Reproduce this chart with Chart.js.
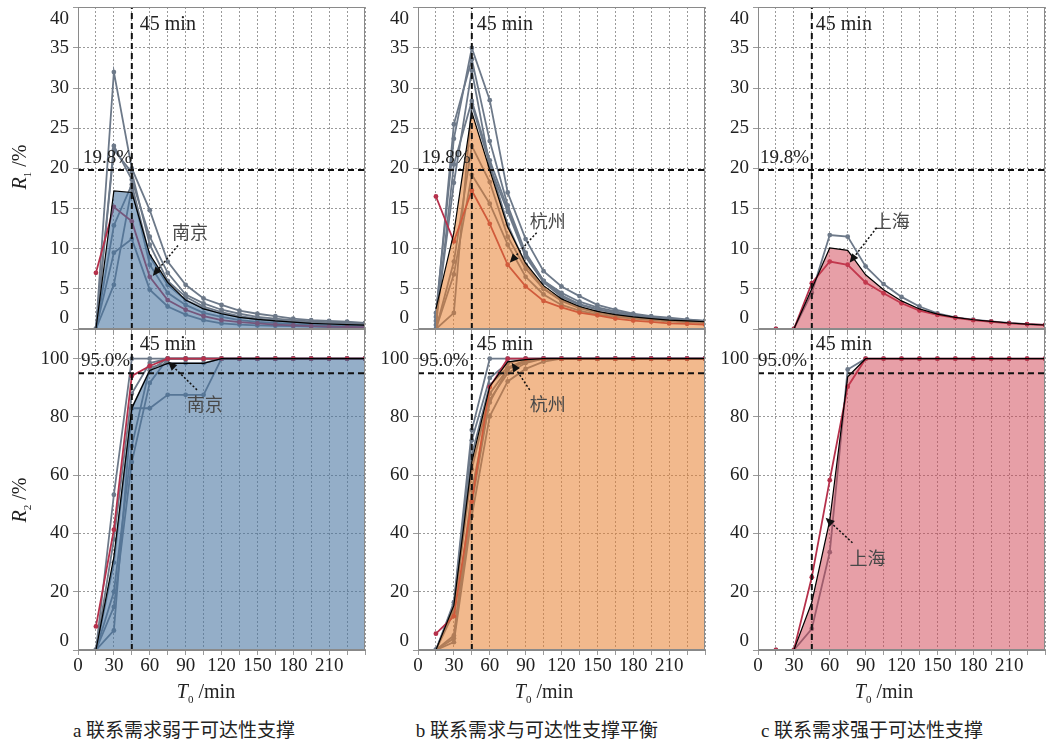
<!DOCTYPE html>
<html lang="zh">
<head>
<meta charset="UTF-8">
<title>R1 / R2 与 T0</title>
<script src="https://cdn.jsdelivr.net/npm/chart.js"></script>
<style>
  body { margin: 0; width: 1050px; height: 741px; background: #fff; position: relative; overflow: hidden;
         font-family: "Liberation Serif", "Noto Sans CJK SC", serif; color: #222; }
  canvas { position: absolute; }
  .yt { position: absolute; transform: translate(-50%, -50%) rotate(-90deg); font-size: 20px; white-space: nowrap; }
  .xt { position: absolute; transform: translate(-50%, -50%); font-size: 20px; white-space: nowrap; }
  .yt sub, .xt sub { font-size: 11px; font-style: normal; }
  .cap { position: absolute; transform: translate(-50%, -50%); font-size: 19px; white-space: nowrap;
         font-family: "Liberation Serif", "Noto Sans CJK SC", serif; }
</style>
</head>
<body>
<canvas id="a1" width="365" height="335"></canvas>
<canvas id="b1" width="365" height="335"></canvas>
<canvas id="c1" width="365" height="335"></canvas>
<canvas id="a2" width="365" height="361"></canvas>
<canvas id="b2" width="365" height="361"></canvas>
<canvas id="c2" width="365" height="361"></canvas>

<div class="yt" style="left:20px;top:167px"><i>R</i><sub>1</sub> /%</div>
<div class="yt" style="left:20px;top:500px"><i>R</i><sub>2</sub> /%</div>
<div class="xt" style="left:206px;top:692px"><i>T</i><sub>0</sub> /min</div>
<div class="xt" style="left:544px;top:692px"><i>T</i><sub>0</sub> /min</div>
<div class="xt" style="left:884px;top:692px"><i>T</i><sub>0</sub> /min</div>
<div class="cap" style="left:184px;top:728px">a 联系需求弱于可达性支撑</div>
<div class="cap" style="left:537px;top:728px">b 联系需求与可达性支撑平衡</div>
<div class="cap" style="left:872px;top:728px">c 联系需求强于可达性支撑</div>

<script>
// time steps (min)
const T = [15, 30, 45, 60, 75, 90, 105, 120, 135, 150, 165, 180, 195, 210, 225, 240];
const xTickLabels = [0, 30, 60, 90, 120, 150, 180, 210];
const r1Ticks = [0, 5, 10, 15, 20, 25, 30, 35, 40];
const r2Ticks = [0, 20, 40, 60, 80, 100];
const cities = ['南京', '杭州', '上海'];

// R1, panel a
const redA1  = [7.0, 15.2, 13.4, 6.5, 3.6, 2.4, 1.6, 1.1, 0.85, 0.7, 0.55, 0.45, 0.35, 0.3, 0.25, 0.22];
const meanA1 = [0, 17.2, 17.0, 9.3, 5.8, 3.6, 2.5, 1.9, 1.45, 1.2, 1.0, 0.85, 0.7, 0.62, 0.55, 0.48];
const greyA1 = [
  [0, 32.0, 20.0, 14.8, 8.4, 5.5, 3.8, 3.0, 2.3, 1.9, 1.6, 1.3, 1.1, 1.0, 0.9, 0.75],
  [0, 22.8, 18.6, 11.5, 7.0, 4.3, 3.2, 2.4, 1.9, 1.5, 1.3, 1.1, 0.95, 0.85, 0.75, 0.65],
  [0, 22.3, 19.5, 10.5, 6.0, 4.0, 2.8, 2.1, 1.6, 1.3, 1.1, 0.95, 0.8, 0.7, 0.6, 0.5],
  [0, 12.9, 18.0, 9.0, 5.5, 3.6, 2.6, 1.9, 1.5, 1.2, 1.0, 0.85, 0.75, 0.65, 0.55, 0.45],
  [0, 9.5, 11.2, 4.9, 2.8, 1.8, 1.1, 0.7, 0.55, 0.45, 0.4, 0.35, 0.3, 0.25, 0.2, 0.18],
  [0, 5.5, 17.6, 8.0, 4.5, 3.0, 2.0, 1.5, 1.1, 0.9, 0.75, 0.6, 0.5, 0.45, 0.4, 0.35]
];

// R1, panel b
const redB1  = [16.5, 10.9, 17.25, 13.1, 8.0, 5.3, 3.5, 2.7, 2.05, 1.7, 1.3, 1.05, 0.9, 0.7, 0.65, 0.55];
const meanB1 = [2.5, 12.0, 27.0, 19.8, 12.7, 8.2, 5.4, 3.75, 2.8, 2.2, 1.8, 1.5, 1.3, 1.1, 1.0, 0.9];
const greyB1 = [
  [2.0, 23.7, 35.0, 28.5, 17.0, 11.2, 7.2, 5.3, 4.1, 3.0, 2.4, 1.9, 1.6, 1.4, 1.2, 1.0],
  [1.5, 25.5, 33.6, 23.4, 15.4, 9.5, 6.0, 4.5, 3.4, 2.7, 2.2, 1.8, 1.5, 1.3, 1.1, 1.0],
  [1.0, 18.2, 32.2, 20.3, 14.6, 9.0, 5.8, 4.0, 3.0, 2.4, 2.0, 1.7, 1.4, 1.2, 1.05, 0.95],
  [0.5, 20.5, 28.4, 21.0, 15.0, 9.3, 6.0, 4.2, 3.1, 2.5, 2.0, 1.7, 1.45, 1.25, 1.1, 1.0],
  [0, 8.4, 22.8, 18.3, 11.5, 7.5, 5.0, 3.5, 2.6, 2.0, 1.7, 1.4, 1.2, 1.0, 0.9, 0.8],
  [0, 6.8, 19.2, 15.6, 10.5, 6.5, 4.3, 3.0, 2.3, 1.8, 1.5, 1.3, 1.1, 0.95, 0.85, 0.75],
  [0, 2.0, 28.0, 20.5, 13.0, 8.0, 5.0, 3.6, 2.7, 2.1, 1.8, 1.5, 1.3, 1.1, 1.0, 0.9]
];

// R1, panel c
const redC1  = [0, 0, 5.7, 8.4, 8.0, 5.8, 4.45, 3.2, 2.3, 1.75, 1.4, 1.1, 0.9, 0.7, 0.6, 0.5];
const meanC1 = [0, 0, 5.0, 10.1, 9.8, 6.75, 4.9, 3.5, 2.5, 1.85, 1.45, 1.15, 0.95, 0.75, 0.6, 0.5];
const greyC1 = [
  [0, 0, 4.5, 11.7, 11.5, 7.8, 5.6, 4.0, 2.8, 1.95, 1.45, 1.15, 0.95, 0.75, 0.6, 0.5]
];

// R2, panel a
const redA2  = [8.1, 41.3, 94.1, 97.5, 100, 100, 100, 100, 100, 100, 100, 100, 100, 100, 100, 100];
const meanA2 = [0, 32, 83, 96, 98.4, 98.4, 98.4, 100, 100, 100, 100, 100, 100, 100, 100, 100];
const greyA2 = [
  [0, 53.3, 100, 100, 100, 100, 100, 100, 100, 100, 100, 100, 100, 100, 100, 100],
  [0, 14.8, 64.5, 91.7, 100, 100, 100, 100, 100, 100, 100, 100, 100, 100, 100, 100],
  [0, 6.7, 83, 83, 87.6, 87.6, 87.6, 100, 100, 100, 100, 100, 100, 100, 100, 100],
  [0, 30, 83, 96, 100, 100, 100, 100, 100, 100, 100, 100, 100, 100, 100, 100],
  [0, 38, 88, 98.5, 100, 100, 100, 100, 100, 100, 100, 100, 100, 100, 100, 100],
  [0, 20, 70, 97, 98.5, 98.5, 98.5, 100, 100, 100, 100, 100, 100, 100, 100, 100]
];

// R2, panel b
const redB2  = [5.6, 11.6, 51, 90.3, 100, 100, 100, 100, 100, 100, 100, 100, 100, 100, 100, 100];
const meanB2 = [0, 15.3, 64.6, 90.5, 98.9, 99.7, 100, 100, 100, 100, 100, 100, 100, 100, 100, 100];
const greyB2 = [
  [0, 16.4, 75.5, 100, 100, 100, 100, 100, 100, 100, 100, 100, 100, 100, 100, 100],
  [0, 15.5, 72, 93.4, 98.5, 100, 100, 100, 100, 100, 100, 100, 100, 100, 100, 100],
  [0, 14.5, 67, 91, 97, 99.5, 100, 100, 100, 100, 100, 100, 100, 100, 100, 100],
  [0, 13, 62, 88, 96.5, 99, 100, 100, 100, 100, 100, 100, 100, 100, 100, 100],
  [0, 5, 55, 85, 96.5, 99, 100, 100, 100, 100, 100, 100, 100, 100, 100, 100],
  [0, 2.7, 46, 80.2, 92.2, 96.5, 99, 100, 100, 100, 100, 100, 100, 100, 100, 100],
  [0, 4, 50, 86, 95, 98.5, 100, 100, 100, 100, 100, 100, 100, 100, 100, 100]
];

// R2, panel c
const redC2  = [0, 0, 25, 58.3, 90.4, 100, 100, 100, 100, 100, 100, 100, 100, 100, 100, 100];
const meanC2 = [0, 0, 16.4, 44.5, 93.8, 100, 100, 100, 100, 100, 100, 100, 100, 100, 100, 100];
const greyC2 = [
  [0, 0, 7.3, 33.6, 96.3, 100, 100, 100, 100, 100, 100, 100, 100, 100, 100, 100]
];

const GREY = '#6d7989';
const RED = '#b5304b';
const fills = ['rgba(70,115,160,0.58)', 'rgba(232,128,48,0.55)', 'rgba(208,64,80,0.5)'];
const plotLeft = [78, 418, 758];
const SERIF = '"Liberation Serif", serif';
const CJK = '"Noto Sans CJK SC", sans-serif';

const pts = arr => arr.map((v, i) => ({ x: T[i], y: v }));

function lineSet(arr, color, order) {
  return {
    data: pts(arr), borderColor: color, backgroundColor: color, borderWidth: 1.8,
    pointRadius: 2.4, pointBorderWidth: 0, pointBackgroundColor: color,
    tension: 0, fill: false, order
  };
}

function refSet(p0, p1) {
  return {
    data: [{ x: p0[0], y: p0[1] }, { x: p1[0], y: p1[1] }],
    borderColor: '#111', borderWidth: 2, borderDash: [6, 4],
    pointRadius: 0, fill: false, order: 0
  };
}

function notesPlugin(notes) {
  return {
    id: 'notes',
    afterDatasetsDraw(chart) {
      const { ctx, chartArea: ca, scales: { x, y } } = chart;
      ctx.save();
      ctx.strokeStyle = '#8a8a8a';
      ctx.lineWidth = 1;
      ctx.strokeRect(ca.left + 0.5, ca.top + 0.5, ca.right - ca.left - 1, ca.bottom - ca.top - 1);
      notes.texts.forEach(n => {
        ctx.font = n.font;
        ctx.fillStyle = n.color || '#222';
        ctx.textAlign = n.align || 'left';
        ctx.textBaseline = 'middle';
        ctx.fillText(n.text, x.getPixelForValue(n.x) + (n.dx || 0), y.getPixelForValue(n.y));
      });
      notes.arrows.forEach(a => {
        const x0 = x.getPixelForValue(a.from[0]), y0 = y.getPixelForValue(a.from[1]);
        const x1 = x.getPixelForValue(a.to[0]), y1 = y.getPixelForValue(a.to[1]);
        const ang = Math.atan2(y1 - y0, x1 - x0);
        const hl = 9, hw = 4;
        const bx = x1 - hl * Math.cos(ang), by = y1 - hl * Math.sin(ang);
        ctx.strokeStyle = '#111';
        ctx.fillStyle = '#111';
        ctx.lineWidth = 1.5;
        ctx.setLineDash([2, 2]);
        ctx.beginPath(); ctx.moveTo(x0, y0); ctx.lineTo(bx, by); ctx.stroke();
        ctx.setLineDash([]);
        ctx.beginPath();
        ctx.moveTo(x1, y1);
        ctx.lineTo(bx + hw * Math.sin(ang), by - hw * Math.cos(ang));
        ctx.lineTo(bx - hw * Math.sin(ang), by + hw * Math.cos(ang));
        ctx.closePath(); ctx.fill();
      });
      ctx.restore();
    }
  };
}

function makeChart(id, left, top, cfg) {
  const cv = document.getElementById(id);
  cv.style.left = (left - 70) + 'px';
  cv.style.top = top + 'px';
  const datasets = [
    cfg.refV, cfg.refH,
    {
      data: pts(cfg.mean), borderColor: '#000', borderWidth: 1.2, backgroundColor: cfg.fill,
      fill: 'origin', pointRadius: 0, tension: 0, order: 1
    },
    lineSet(cfg.red, RED, 2),
    ...cfg.grey.map(g => lineSet(g, GREY, 3))
  ];
  const gridCol = '#9a9a9a';
  return new Chart(cv, {
    type: 'line',
    data: { datasets },
    options: {
      responsive: false, animation: false,
      layout: { padding: cfg.padding },
      plugins: { legend: { display: false }, tooltip: { enabled: false } },
      scales: {
        x: {
          type: 'linear', min: 0, max: 240,
          grid: { color: gridCol, lineWidth: 1, tickLength: 5 },
          border: { color: '#888', dash: [2, 2] },
          ticks: {
            display: cfg.showX, stepSize: 15, autoSkip: false, maxRotation: 0, padding: 0,
            color: '#222', font: { family: SERIF, size: 19 },
            callback: v => xTickLabels.includes(v) ? String(v) : ''
          },
          afterFit: s => { s.height = cfg.xHeight; s.paddingLeft = 0; s.paddingRight = 0; }
        },
        y: {
          min: 0, max: cfg.yMax,
          grid: { color: gridCol, lineWidth: 1, tickLength: 5 },
          border: { color: '#888', dash: [2, 2] },
          ticks: {
            stepSize: cfg.step, includeBounds: false, autoSkip: false, padding: 4, color: '#222',
            font: { family: SERIF, size: 19, lineHeight: cfg.lh },
            callback: v => {
              if (!cfg.ticks.includes(v)) return '';
              if (v === 0) return ['0', ''];
              if (cfg.shiftTop && v === cfg.ticks[cfg.ticks.length - 1]) return ['', String(v)];
              return String(v);
            }
          },
          afterFit: s => { s.width = 70; s.paddingTop = 0; s.paddingBottom = 0; }
        }
      }
    },
    plugins: [notesPlugin(cfg.notes)]
  });
}

const topSets = [
  { red: redA1, mean: meanA1, grey: greyA1 },
  { red: redB1, mean: meanB1, grey: greyB1 },
  { red: redC1, mean: meanC1, grey: greyC1 }
];
const botSets = [
  { red: redA2, mean: meanA2, grey: greyA2 },
  { red: redB2, mean: meanB2, grey: greyB2 },
  { red: redC2, mean: meanC2, grey: greyC2 }
];
// label offsets (px) of "45 min" and the threshold labels
const minDx = [8, 5, 4];
const pctDx = [5, 3.5, 2];
// annotation anchors in data units: [text t, text v, arrow from t, from v, arrow to t, to v]
const topNote = [[93.6, 12.0, 83.6, 10.4, 62.5, 6.6], [108.4, 13.4, 99.2, 12.0, 76.7, 8.25], [111.8, 13.4, 99.2, 12.6, 76.6, 8.25]];
const botNote = [[106, 84.5, 99.5, 89.3, 75.3, 99.0], [108.4, 84.5, 93.4, 89.3, 78.3, 98.6], [91.6, 31.6, 79, 36.8, 56.5, 45.4]];

['a', 'b', 'c'].forEach((k, i) => {
  const L = plotLeft[i];
  const tn = topNote[i], bn = botNote[i];
  makeChart(k + '1', L, 0, {
    ...topSets[i], fill: fills[i], yMax: 40.1, step: 5, ticks: r1Ticks, lh: 1.15, shiftTop: true,
    showX: false, xHeight: 0, padding: { top: 7, right: 8, bottom: 6, left: 0 },
    refV: refSet([45, 0], [45, 40.1]), refH: refSet([0, 19.8], [240, 19.8]),
    notes: {
      texts: [
        { text: '45 min', x: 45, dx: minDx[i], y: 37.9, font: '20px ' + SERIF },
        { text: '19.8%', x: 0, dx: pctDx[i], y: 21.3, font: '19px ' + SERIF },
        { text: cities[i], x: tn[0], y: tn[1], align: 'center', font: '18px ' + CJK, color: '#484848' }
      ],
      arrows: [{ from: [tn[2], tn[3]], to: [tn[4], tn[5]] }]
    }
  });
  makeChart(k + '2', L, 320, {
    ...botSets[i], fill: fills[i], yMax: 110.2, step: 20, ticks: r2Ticks, lh: 0.9, shiftTop: false,
    showX: true, xHeight: 31, padding: { top: 9, right: 8, bottom: 0, left: 0 },
    refV: refSet([45, 0], [45, 110.2]), refH: refSet([0, 95], [240, 95]),
    notes: {
      texts: [
        { text: '45 min', x: 45, dx: minDx[i], y: 104.7, font: '20px ' + SERIF },
        { text: '95.0%', x: 0, dx: pctDx[i] - 2, y: 99.2, font: '19px ' + SERIF },
        { text: cities[i], x: bn[0], y: bn[1], align: 'center', font: '18px ' + CJK, color: '#484848' }
      ],
      arrows: [{ from: [bn[2], bn[3]], to: [bn[4], bn[5]] }]
    }
  });
});
</script>
</body>
</html>
